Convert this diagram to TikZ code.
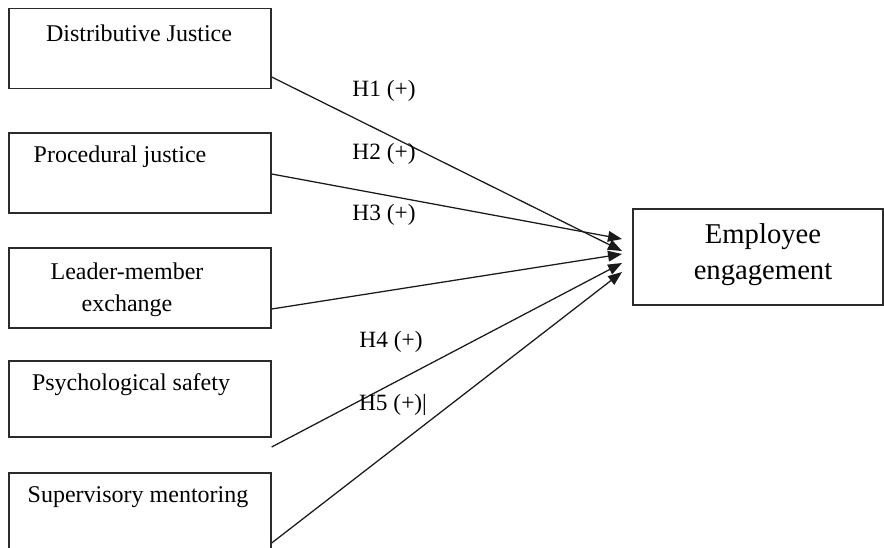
\documentclass[tikz,border=0pt]{standalone}
\usepackage{fontspec}
\setmainfont{Liberation Serif}
\usetikzlibrary{arrows.meta, calc}
\definecolor{boxline}{HTML}{2B2B2B}
\definecolor{linkline}{HTML}{1A1A1A}

\begin{document}
\begin{tikzpicture}[x=0.75pt, y=-0.75pt,
  factor/.style={rectangle, draw=boxline, line width=1pt,
    minimum width=196.5pt, minimum height=60pt, inner sep=0pt},
  outcome/.style={rectangle, draw=boxline, line width=1pt,
    minimum width=187.5pt, minimum height=72pt, inner sep=0pt,
    align=center, font=\fontsize{21.5}{27}\selectfont},
  boxtext/.style={font=\fontsize{18}{24}\selectfont, inner sep=0pt, align=center},
  hyp/.style={font=\fontsize{17.5}{21}\selectfont, inner sep=0pt},
  link/.style={draw=linkline, line width=0.95pt,
    -{Triangle[length=10.5pt, width=8pt]}}]
\useasboundingbox (0,0) rectangle (884,548);

% predictors
\node[factor] (dist) at (140,48.5) {};
\node[boxtext] (dist-txt) at (139,33) {Distributive Justice};
\node[factor] (proc) at (140,173) {};
\node[boxtext] (proc-txt) at (120,157) {Procedural justice};
\node[factor] (lmx) at (140,288) {};
\node[boxtext] (lmx-txt) at (127,290) {Leader-member\\exchange};
\node[factor, minimum height=57pt] (psy) at (140,399) {};
\node[boxtext] (psy-txt) at (131,385) {Psychological safety};
\node[factor] (sup) at (140,513) {};
\node[boxtext] (sup-txt) at (138,497) {Supervisory mentoring};

% outcome
\node[outcome] (eng) at (758,257) {};
\node[boxtext, font=\fontsize{21.5}{27}\selectfont] (eng-txt) at (763,255) {Employee\\engagement};

% arrow ends
\coordinate (tip1) at (622,251);
\coordinate (tip2) at (622,239);
\coordinate (tip3) at (622,254);
\coordinate (tip4) at (622,263);
\coordinate (tip5) at (622,272);

\draw[link] (dist.east |- 0,77) -- (tip1);
\draw[link] (proc.east |- 0,174) -- (tip2);
\draw[link] (lmx.east |- 0,309) -- (tip3);
\draw[link] (psy.east |- 0,447) -- (tip4);
\draw[link] (sup.east |- 0,543) -- (tip5);

% hypotheses
\node[hyp] (h1) at (384,91) {H1 (+)};
\node[hyp] (h2) at (384,154) {H2 (+)};
\node[hyp] (h3) at (384,215) {H3 (+)};
\node[hyp] (h4) at (391,342) {H4 (+)};
\node[hyp] (h5) at (393,405) {H5 (+)|};
\end{tikzpicture}
\end{document}
